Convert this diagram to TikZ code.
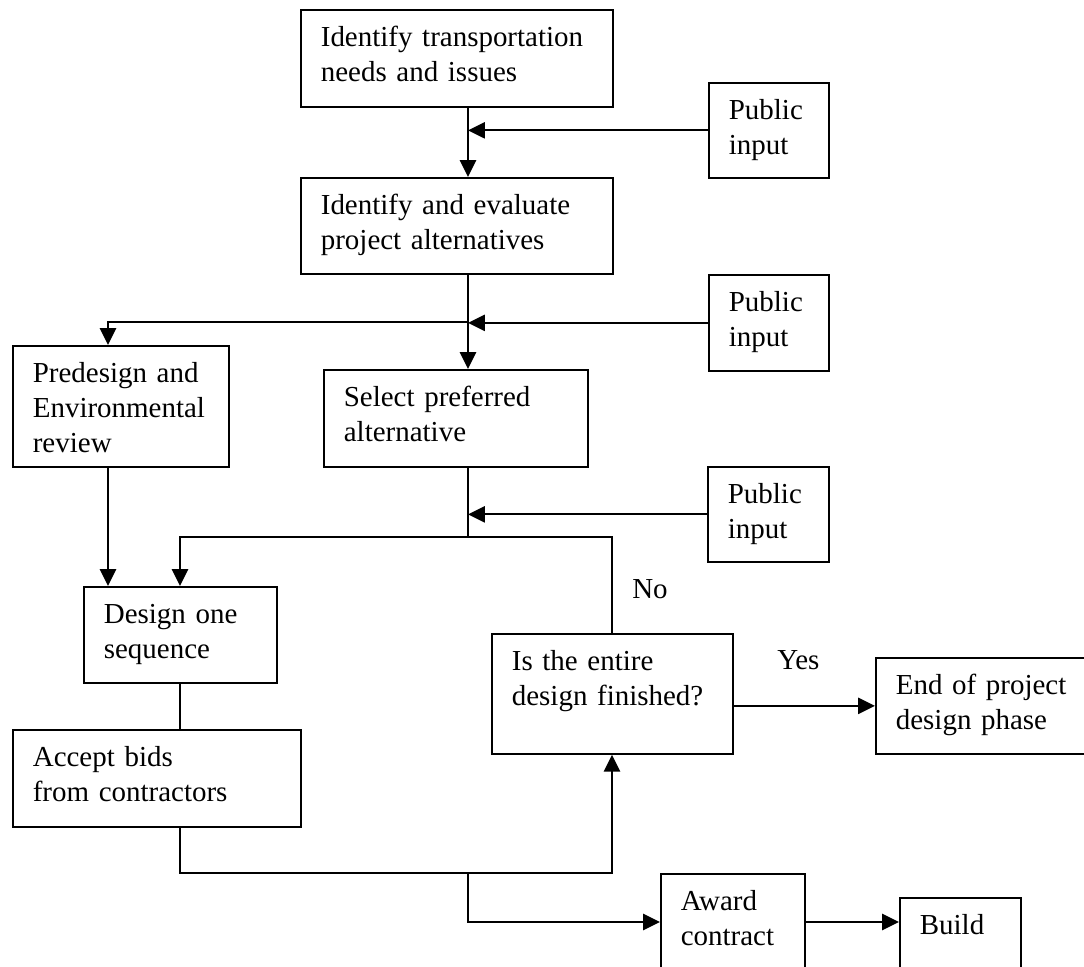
\documentclass[tikz,border=0pt]{standalone}
\usepackage{fontspec}
\setmainfont{Liberation Serif}
\usepackage{tikz}
\usetikzlibrary{arrows.meta, calc}

\begin{document}
\begin{tikzpicture}[
    x=0.025cm, y=-0.025cm,
    % plain boxes: width and height given, text kept at the top left
    box/.style 2 args={draw, line width=1.2pt, anchor=north west, inner xsep=0.5cm, inner ysep=0pt,
                       align=left, text width=#1-1cm, text height=0.925cm, text depth=#2-0.925cm,
                       font=\fontsize{20.6}{24.9}\selectfont},
    arr/.style={-{Triangle[length=12pt,width=11.5pt]}, line width=1.3pt},
    ln/.style={line width=1.3pt},
    lbl/.style={anchor=base west, inner sep=0pt, font=\fontsize{20.6}{24.9}\selectfont}
]

\useasboundingbox (0,0) rectangle (1084,966);

% ===== MAIN COLUMN =====
\node[box={7.8cm}{2.425cm}] (needs) at (300,9) {Identify transportation\\needs and issues};
\node[box={7.8cm}{2.4cm}] (alts) at (300,177) {Identify and evaluate\\project alternatives};
\node[box={6.6cm}{2.425cm}] (select) at (323,369) {Select preferred\\alternative};

% ===== PUBLIC INPUT =====
\node[box={3cm}{2.375cm}] (pub1) at (708,82) {Public\\input};
\node[box={3cm}{2.4cm}] (pub2) at (708,274) {Public\\input};
\node[box={3.025cm}{2.375cm}] (pub3) at (707,466) {Public\\input};

% ===== LEFT SIDE =====
\node[box={5.4cm}{3.025cm}] (predes) at (12,345) {Predesign and\\Environmental\\review};
\node[box={4.825cm}{2.4cm}] (design) at (83,586) {Design one\\sequence};
\node[box={7.2cm}{2.425cm}] (bids) at (12,729) {Accept bids\\from contractors};

% ===== DECISION AND END =====
\node[box={6.025cm}{3cm}] (finish) at (491,633) {Is the entire\\design finished?};
\node[box={5.75cm}{2.4cm}] (endp) at (875,657) {End of project\\design phase};
\node[box={3.6cm}{3.25cm}] (award) at (660,873) {Award\\contract};
\node[box={3.025cm}{2.75cm}] (build) at (899,897) {Build};

\node[lbl] (no) at (632,598) {No};
\node[lbl] (yes) at (777,669) {Yes};

% junction points
\coordinate (j1) at (468,130);
\coordinate (j2) at (468,322);
\coordinate (j3) at (468,514);
\coordinate (p1) at (108,322);
\coordinate (d1) at (180,537);
\coordinate (n3) at (612,537);
\coordinate (b1) at (180,873);
\coordinate (b2) at (468,873);
\coordinate (b3) at (468,922);

% spine
\draw[arr] (needs.south -| j1) -- (alts.north -| j1);
\draw[arr] (pub1.west) -- (pub1.west -| j1);
\draw[arr] (alts.south -| j1) -- (select.north -| j1);
\draw[arr] (pub2.west) -- (pub2.west -| j1);
\draw[ln] (select.south -| j3) -- (j3 |- d1);
\draw[arr] (pub3.west) -- (pub3.west -| j3);

% predesign branch
\draw[arr] (j2) -- (p1) -- (predes.north -| p1);
\draw[arr] (predes.south -| p1) -- (design.north -| p1);

% loop back (No)
\draw[arr] (finish.north -| n3) -- (n3) -- (d1) -- (design.north -| d1);
\draw[ln] (design.south -| d1) -- (bids.north -| d1);
\draw[arr] (bids.south -| b1) -- (b1) -- (b1 -| n3) -- (finish.south -| n3);

% award and build
\draw[arr] (b2) -- (b3) -- (b3 -| award.west);
\draw[arr] (award.east |- b3) -- (build.west |- b3);

% Yes
\draw[arr] (finish.east |- endp.west) -- (endp.west);

\end{tikzpicture}
\end{document}
